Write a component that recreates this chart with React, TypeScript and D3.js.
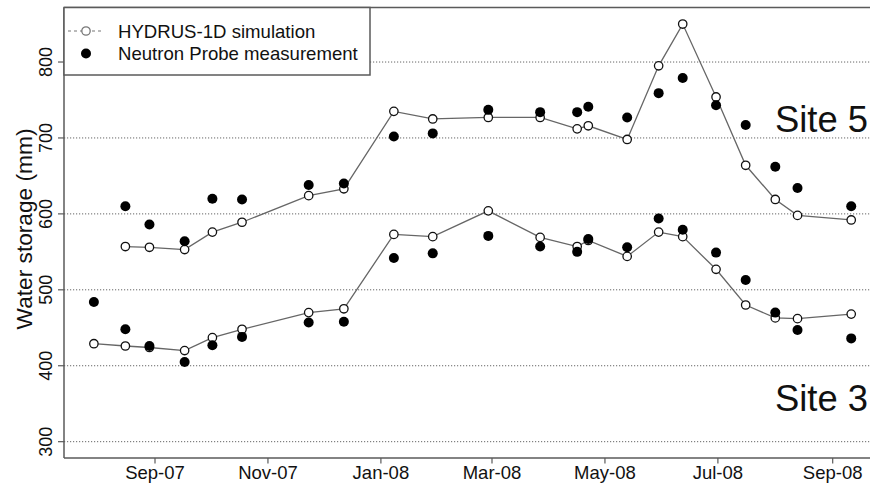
import React from "react";
import * as d3 from "d3";

const dates = [
  "2007-07-30", "2007-08-16", "2007-08-29", "2007-09-17", "2007-10-02", "2007-10-18",
  "2007-11-23", "2007-12-12", "2008-01-08", "2008-01-29", "2008-02-28", "2008-03-27",
  "2008-04-16", "2008-04-22", "2008-05-13", "2008-05-30", "2008-06-12", "2008-06-30",
  "2008-07-16", "2008-08-01", "2008-08-13", "2008-09-11",
];
const site3Sim = [429, 426, 424, 420, 437, 448, 470, 475, 573, 570, 604, 569, 557, 565, 544, 576, 570, 527, 480, 463, 462, 468];
const site3Obs = [484, 448, 426, 405, 427, 438, 457, 458, 542, 548, 571, 557, 550, 567, 556, 594, 579, 549, 513, 470, 447, 436];
// Site 5 starts at the second date
const site5Sim = [null, 557, 556, 553, 576, 589, 624, 633, 735, 725, 727, 727, 712, 716, 698, 795, 850, 754, 664, 619, 598, 592];
const site5Obs = [null, 610, 586, 564, 620, 619, 638, 640, 702, 706, 737, 734, 734, 741, 727, 759, 779, 743, 717, 662, 634, 610];

const yTicks = [300, 400, 500, 600, 700, 800];
const xTickDates = ["2007-09-01", "2007-11-01", "2008-01-01", "2008-03-01", "2008-05-01", "2008-07-01", "2008-09-01"];
const siteLabels = [
  { text: "Site 5", value: 708 },
  { text: "Site 3", value: 340 },
];
const legendItems = ["HYDRUS-1D simulation", "Neutron Probe measurement"];

const W = 870;
const H = 483;
const L = 64, R = 872, T = 7.5, B = 458;
const FONT = "'Liberation Sans', Arial, Helvetica, sans-serif";

export default function App() {
  const parse = d3.timeParse("%Y-%m-%d");
  const dts = dates.map((d) => parse(d) as Date);
  const x = d3
    .scaleTime()
    .domain([parse("2007-09-01") as Date, parse("2008-09-01") as Date])
    .range([155, 832.7]);
  const y = d3.scaleLinear().domain([278.5, 871.8]).range([B, T]);
  const fmt = d3.timeFormat("%b-%y");

  const line = d3
    .line<[Date, number | null]>()
    .defined((d) => d[1] != null)
    .x((d) => x(d[0]))
    .y((d) => y(d[1] as number));

  const series = [site3Sim, site5Sim];
  const obs = [site3Obs, site5Obs];
  const axisColor = "#5a5a5a";

  return (
    <svg
      width={W}
      height={H}
      style={{ position: "absolute", left: 0, top: 0, background: "#fff" }}
      fontFamily={FONT}
    >
      <rect width={W} height={H} fill="#fff" />
      {/* gridlines */}
      {yTicks.map((t) => (
        <line key={"g" + t} x1={L} x2={R} y1={y(t)} y2={y(t)} stroke="#666" strokeWidth={1} strokeDasharray="1.2,1.8" />
      ))}
      {/* frame */}
      <line x1={L} x2={R} y1={T} y2={T} stroke={axisColor} strokeWidth={1.5} />
      <line x1={L} x2={L} y1={T} y2={B} stroke={axisColor} strokeWidth={1.5} />
      <line x1={L} x2={R} y1={B} y2={B} stroke={axisColor} strokeWidth={1.5} />
      {/* y ticks */}
      {yTicks.map((t) => (
        <g key={"y" + t}>
          <line x1={L - 6} x2={L} y1={y(t)} y2={y(t)} stroke={axisColor} strokeWidth={1.2} />
          <text
            transform={`translate(51.5,${y(t)}) rotate(-90)`}
            textAnchor="middle"
            fontSize={18}
            fill="#111"
          >
            {t}
          </text>
        </g>
      ))}
      {/* x ticks */}
      {xTickDates.map((s) => {
        const d = parse(s) as Date;
        return (
          <g key={"x" + s}>
            <line x1={x(d)} x2={x(d)} y1={B} y2={B + 5.5} stroke={axisColor} strokeWidth={1.2} />
            <text x={x(d)} y={479} textAnchor="middle" fontSize={18.5} fill="#111">
              {fmt(d)}
            </text>
          </g>
        );
      })}
      {/* y axis label */}
      <text transform={`translate(31.5,229) rotate(-90)`} textAnchor="middle" fontSize={22.7} fill="#111">
        Water storage (mm)
      </text>
      {/* simulation lines */}
      {series.map((s, i) => (
        <path
          key={"l" + i}
          d={line(dts.map((d, j) => [d, s[j]] as [Date, number | null])) || ""}
          fill="none"
          stroke="#666"
          strokeWidth={1.3}
        />
      ))}
      {/* simulation points */}
      {series.map((s, i) =>
        s.map((v, j) =>
          v == null ? null : (
            <circle key={`s${i}-${j}`} cx={x(dts[j])} cy={y(v)} r={4.2} fill="#fff" stroke="#111" strokeWidth={1.3} />
          )
        )
      )}
      {/* observations */}
      {obs.map((s, i) =>
        s.map((v, j) =>
          v == null ? null : <circle key={`o${i}-${j}`} cx={x(dts[j])} cy={y(v)} r={5} fill="#000" />
        )
      )}
      {/* site labels */}
      {siteLabels.map((s) => (
        <text key={s.text} x={868} y={y(s.value)} textAnchor="end" fontSize={36.4} fill="#111">
          {s.text}
        </text>
      ))}
      {/* legend */}
      <rect x={L} y={T} width={306} height={67.5} fill="#fff" stroke={axisColor} strokeWidth={1.5} />
      <line x1={68} x2={104} y1={31} y2={31} stroke="#777" strokeWidth={1.2} strokeDasharray="3,3" />
      <circle cx={86} cy={31} r={4.2} fill="#fff" stroke="#777" strokeWidth={1.3} />
      <circle cx={86} cy={53.5} r={5} fill="#000" />
      {legendItems.map((t, i) => (
        <text key={t} x={118} y={37.5 + i * 22.5} fontSize={18.6} fill="#111">
          {t}
        </text>
      ))}
    </svg>
  );
}
